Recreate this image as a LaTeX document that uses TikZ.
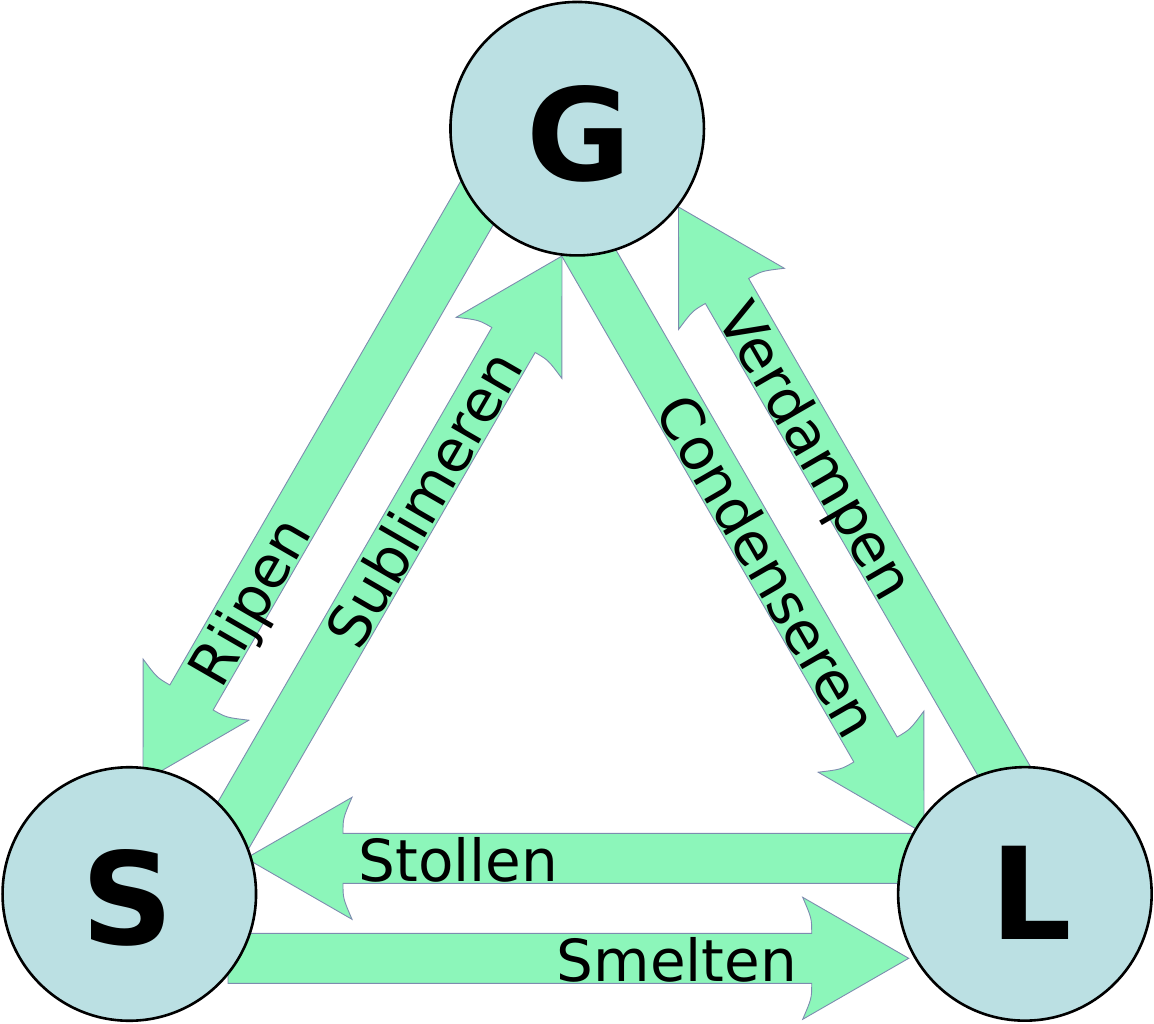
\documentclass[tikz,border=0pt]{standalone}
\usepackage{fontspec}
\setmainfont{DejaVu Sans}
\definecolor{arrowfill}{RGB}{140,246,186}
\definecolor{arrowline}{RGB}{125,140,175}
\definecolor{circfill}{RGB}{187,224,227}
% #1 junction coordinate, #2 direction angle, #3 shaft length
\newcommand\fatarrow[3]{%
  \begin{scope}[shift={#1},rotate=#2]
    \path[fatarrowstyle] (-#3,-25) -- (0,-25) .. controls (0,-40) .. (-9,-61)
      -- (97,0) -- (-9,61) .. controls (0,40) .. (0,25) -- (-#3,25) -- cycle;
  \end{scope}}
\begin{document}
\begin{tikzpicture}[x=1pt,y=-1pt,
  fatarrowstyle/.style={fill=arrowfill, draw=arrowline, line width=0.9pt, line join=miter},
  phase/.style={circle, draw=black, line width=2.6pt, fill=circfill, minimum size=253.5pt, inner sep=0pt},
  letter/.style={anchor=base, inner sep=0pt, font=\fontsize{128}{128}\selectfont\bfseries},
  lab/.style={anchor=base, inner sep=0pt, font=\fontsize{58}{58}\selectfont}]
\useasboundingbox (0,0) rectangle (1154,1024);
% arrow junction points (base of each arrow head)
\coordinate (jRijpen) at (191.5,697.5);
\coordinate (jSublimeren) at (513.5,340);
\coordinate (jCondenseren) at (875.5,749.5);
\coordinate (jVerdampen) at (727,291);
\coordinate (jStollen) at (343,858.3);
\coordinate (jSmelten) at (811.7,958.3);
% arrows
\fatarrow{(jRijpen)}{240}{600}
\fatarrow{(jSublimeren)}{60}{580}
\fatarrow{(jCondenseren)}{-60}{600}
\fatarrow{(jVerdampen)}{120}{580}
\fatarrow{(jStollen)}{180}{572}
\fatarrow{(jSmelten)}{0}{583.7}
% phases
\node[phase] (G) at (577.2,128.7) {};
\node[phase] (S) at (129.3,894) {};
\node[phase] (L) at (1024.9,893.9) {};
\node[letter] (Gt) at (579,180.5) {G};
\node[letter] (St) at (128,944.5) {S};
\node[letter] (Lt) at (1031,939.3) {L};
% labels
\node[lab, rotate=60] (tRijpen) at (267.3,611.6) {Rijpen};
\node[lab, rotate=60] (tSublimeren) at (441.9,509.4) {Sublimeren};
\node[lab, rotate=-60] (tCondenseren) at (749.5,576.8) {Condenseren};
\node[lab, rotate=-60] (tVerdampen) at (798.9,461) {Verdampen};
\node[lab] (tStollen) at (458.4,881) {Stollen};
\node[lab] (tSmelten) at (677,981) {Smelten};
\end{tikzpicture}
\end{document}
